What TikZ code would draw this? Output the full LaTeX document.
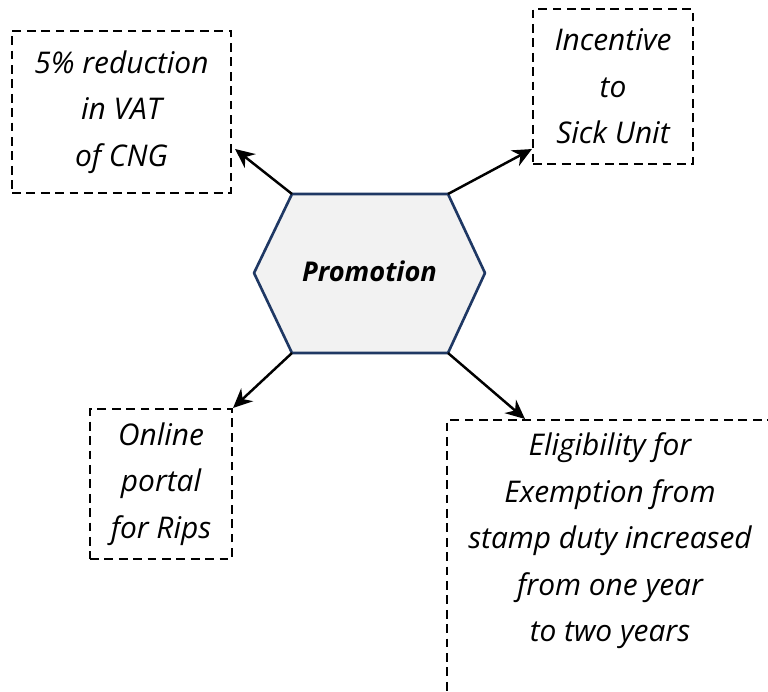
\documentclass[tikz,border=0pt]{standalone}
\usepackage{fontspec}
\setmainfont{Open Sans}
\usetikzlibrary{arrows.meta,calc}
\definecolor{hexfill}{HTML}{F2F2F2}
\definecolor{hexline}{HTML}{1F3864}

\tikzset{
  box/.style={draw, dash pattern=on 5pt off 3.2pt, line width=1.2pt, align=center,
    font=\fontsize{17}{26.5}\selectfont\itshape},
  boxtext/.style={align=center, font=\fontsize{17}{26.5}\selectfont\itshape},
  arr/.style={-{Stealth[length=11pt,width=10pt]}, line width=1.4pt},
}

\begin{document}
\begin{tikzpicture}[x=0.02cm,y=-0.02cm]
\useasboundingbox (0,0) rectangle (768,692);
\clip (0,0) rectangle (768,692);

% central hexagon
\coordinate (hw)  at (254,273);
\coordinate (hnw) at (292,194);
\coordinate (hne) at (448,194);
\coordinate (he)  at (485,273);
\coordinate (hse) at (448,353);
\coordinate (hsw) at (292,353);
\filldraw[fill=hexfill, draw=hexline, line width=1.5pt, line join=round]
  (hw) -- (hnw) -- (hne) -- (he) -- (hse) -- (hsw) -- cycle;
\node[font=\fontsize{15.5}{20}\selectfont\bfseries\itshape] (promo) at (369.5,271) {Promotion};

% the four measures
\node[box, minimum width=4.38cm, minimum height=3.24cm] (cng) at (121.5,112)
  {5\% reduction\\in VAT\\of CNG};
\node[box, minimum width=3.2cm, minimum height=3.1cm] (sick) at (613,86.5)
  {Incentive\\to\\Sick Unit};
\node[box, minimum width=2.84cm, minimum height=3.0cm] (rips) at (161,484)
  {Online\\portal\\for Rips};
\node[box, minimum width=6.58cm, minimum height=6.1cm, anchor=north west] (exempt) at (446,419) {};
\node[boxtext] (exempttxt) at (610,541)
  {Eligibility for\\Exemption from\\stamp duty increased\\from one year\\to two years};

% arrows
\draw[arr] (hnw) -- ([shift={(3,37)}]cng.east);
\draw[arr] (hne) -- ([shift={(0,-16)}]sick.south west);
\draw[arr] (hsw) -- (rips.north east);
\draw[arr] (hse) -- ([shift={(79,0)}]exempt.north west);
\end{tikzpicture}
\end{document}
